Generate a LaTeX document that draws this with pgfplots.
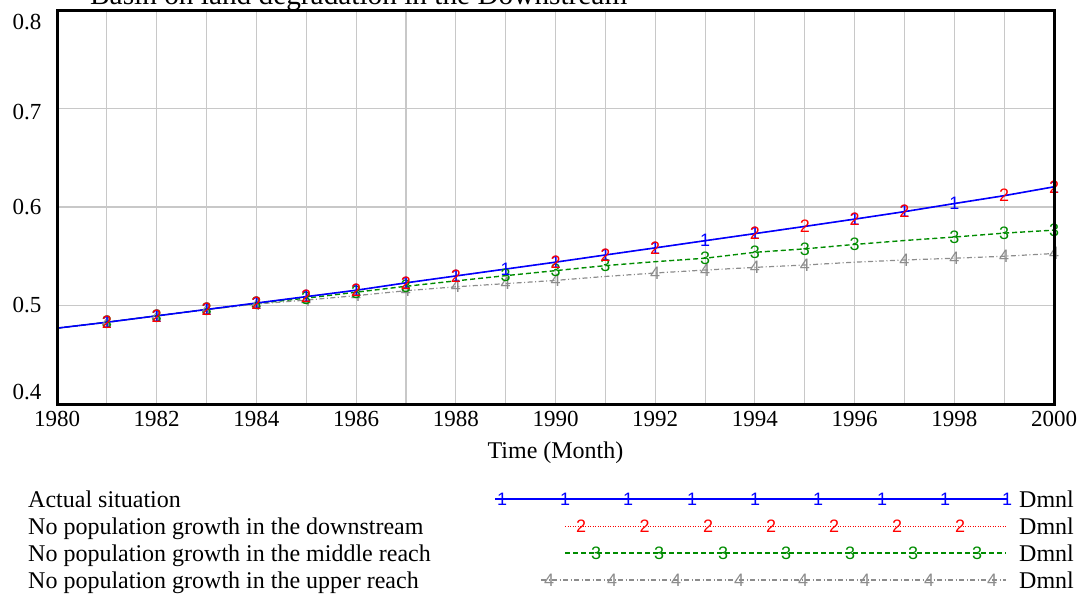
\documentclass[border=0pt]{standalone}
\usepackage{fontspec}
\setmainfont{Liberation Serif}
\newfontfamily\markfont{Liberation Sans}
\usepackage{pgfplots}
\pgfplotsset{compat=1.18}
\usepackage{pgfplotstable}

\definecolor{gridgray}{RGB}{200,200,200}
\definecolor{vgreen}{RGB}{0,140,0}
\definecolor{vgray}{RGB}{140,140,140}

\pgfplotstableread{
year s1 s2 s3 s4
1980 0.4770 0.4770 0.4770 0.4770
1981 0.4830 0.4830 0.4830 0.4830
1982 0.4895 0.4895 0.4895 0.4895
1983 0.4960 0.4960 0.4960 0.4958
1984 0.5025 0.5025 0.5020 0.5015
1985 0.5090 0.5090 0.5075 0.5055
1986 0.5155 0.5155 0.5135 0.5100
1987 0.5230 0.5230 0.5195 0.5150
1988 0.5300 0.5300 0.5250 0.5190
1989 0.5370 0.5370 0.5303 0.5222
1990 0.5440 0.5440 0.5354 0.5255
1991 0.5513 0.5513 0.5405 0.5295
1992 0.5585 0.5585 0.5445 0.5330
1993 0.5658 0.5658 0.5480 0.5360
1994 0.5730 0.5730 0.5540 0.5387
1995 0.5803 0.5803 0.5575 0.5411
1996 0.5877 0.5877 0.5620 0.5440
1997 0.5953 0.5953 0.5660 0.5462
1998 0.6035 0.6035 0.5695 0.5480
1999 0.6115 0.6115 0.5735 0.5500
2000 0.6205 0.6205 0.5765 0.5528
}\data

\newcommand{\tfont}{\fontsize{24}{28}\selectfont}
\newcommand{\mfont}{\markfont\fontsize{18}{18}\selectfont}

\tikzset{
  redline/.style={red, line width=1pt, dash pattern=on 1pt off 1.5pt},
  greenline/.style={vgreen, line width=1.4pt, dash pattern=on 5pt off 3pt},
  grayline/.style={vgray, line width=1.2pt, dash pattern=on 5pt off 2.5pt on 1pt off 2.5pt},
  blueline/.style={blue, line width=1.6pt},
}

\begin{document}
\begin{tikzpicture}
\begin{axis}[
  at={(57pt,-404pt)}, anchor=south west,
  scale only axis, width=997pt, height=394pt,
  xmin=1980, xmax=2000, ymin=0.4, ymax=0.8,
  xtick={1980,1982,...,2000}, minor xtick={1981,1983,...,1999},
  ytick={0.4,0.5,0.6,0.7,0.8},
  grid=both,
  major grid style={gridgray, line width=1.1pt},
  minor grid style={gridgray, line width=1.1pt},
  major tick length=0pt, minor tick length=0pt,
  axis line style={black, line width=3pt, line cap=rect},
  clip mode=individual,
  /pgf/number format/assume math mode=true,
  ticklabel style={font=\fontsize{23}{27}\selectfont},
  xticklabel style={/pgf/number format/1000 sep={}, yshift=-4pt},
  yticklabel style={/pgf/number format/fixed, /pgf/number format/precision=1,
     xshift=-12pt,
     yshift={ifthenelse(\ticknum==0,12,ifthenelse(\ticknum==4,-12,ifthenelse(\ticknum==3,-4,0)))}},
  xlabel={Time (Month)},
  xlabel style={font=\tfont, yshift=-8pt},
]
\addplot[redline, no markers] table[x=year,y=s2]{\data};
\addplot[greenline, no markers] table[x=year,y=s3]{\data};
\addplot[grayline, no markers] table[x=year,y=s4]{\data};
\addplot[blueline, no markers] table[x=year,y=s1]{\data};
\addplot[vgray, only marks, mark=text, text mark={\mfont\color{vgray}4},
  mark indices={2,3,4,5,6,7,8,9,10,11,13,14,15,16,18,19,20,21}] table[x=year,y=s4]{\data};
\addplot[vgreen, only marks, mark=text, text mark={\mfont\color{vgreen}3},
  mark indices={2,3,4,5,6,7,8,10,11,12,14,15,16,17,19,20,21}] table[x=year,y=s3]{\data};
\addplot[blue, only marks, mark=text, text mark={\mfont\color{blue}1},
  mark indices={2,3,4,5,6,7,8,9,10,11,12,13,14,15,17,18,19,21}] table[x=year,y=s1]{\data};
\addplot[red, only marks, mark=text, text mark={\mfont\color{red}2},
  mark indices={2,3,4,5,6,7,8,9,11,12,13,15,16,17,18,20,21}] table[x=year,y=s2]{\data};
\draw[black, line width=3pt, line join=miter] (rel axis cs:0,0) rectangle (rel axis cs:1,1);
\end{axis}

\begin{axis}[
  at={(0pt,-597pt)}, anchor=south west,
  scale only axis, width=1081pt, height=597pt,
  xmin=0, xmax=1081, ymin=0, ymax=597, y dir=reverse,
  hide axis, clip=false,
]
\node[anchor=base west, font=\fontsize{29.3}{34}\selectfont, inner sep=0pt] at (axis cs:90,4) {Basin on land degradation in the Downstream};

\addplot[blueline, mark=text, text mark={\mfont\color{blue}1}, mark options={solid},
  mark indices={2,3,4,5,6,7,8,9,10}] coordinates {(495,499) (502,499) (565,499) (628,499) (692,499) (755,499) (818,499) (882,499) (945,499) (1007,499)};
\addplot[redline, mark=text, text mark={\mfont\color{red}2}, mark options={solid},
  mark indices={2,3,4,5,6,7,8}] coordinates {(565,526) (581,526) (644.5,526) (708,526) (771,526) (834,526) (897,526) (960,526) (1006,526)};
\addplot[greenline, mark=text, text mark={\mfont\color{vgreen}3}, mark options={solid},
  mark indices={2,3,4,5,6,7,8}] coordinates {(565,553) (596,553) (659,553) (723,553) (786,553) (850,553) (913,553) (977,553) (1006,553)};
\addplot[grayline, mark=text, text mark={\mfont\color{vgray}4}, mark options={solid},
  mark indices={2,3,4,5,6,7,8,9}] coordinates {(541,580) (549,580) (612,580) (676,580) (739,580) (803,580) (865,580) (929,580) (992,580) (1006,580)};

\node[anchor=base west, font=\tfont, inner sep=0pt] at (axis cs:28,507) {Actual situation};
\node[anchor=base west, font=\tfont, inner sep=0pt] at (axis cs:28,534) {No population growth in the downstream};
\node[anchor=base west, font=\tfont, inner sep=0pt] at (axis cs:28,561) {No population growth in the middle reach};
\node[anchor=base west, font=\tfont, inner sep=0pt] at (axis cs:28,588) {No population growth in the upper reach};
\node[anchor=base west, font=\tfont, inner sep=0pt] at (axis cs:1019,507) {Dmnl};
\node[anchor=base west, font=\tfont, inner sep=0pt] at (axis cs:1019,534) {Dmnl};
\node[anchor=base west, font=\tfont, inner sep=0pt] at (axis cs:1019,561) {Dmnl};
\node[anchor=base west, font=\tfont, inner sep=0pt] at (axis cs:1019,588) {Dmnl};
\end{axis}
\pgfresetboundingbox
\path (0pt,0pt) rectangle (1081pt,-597pt);
\end{tikzpicture}
\end{document}
